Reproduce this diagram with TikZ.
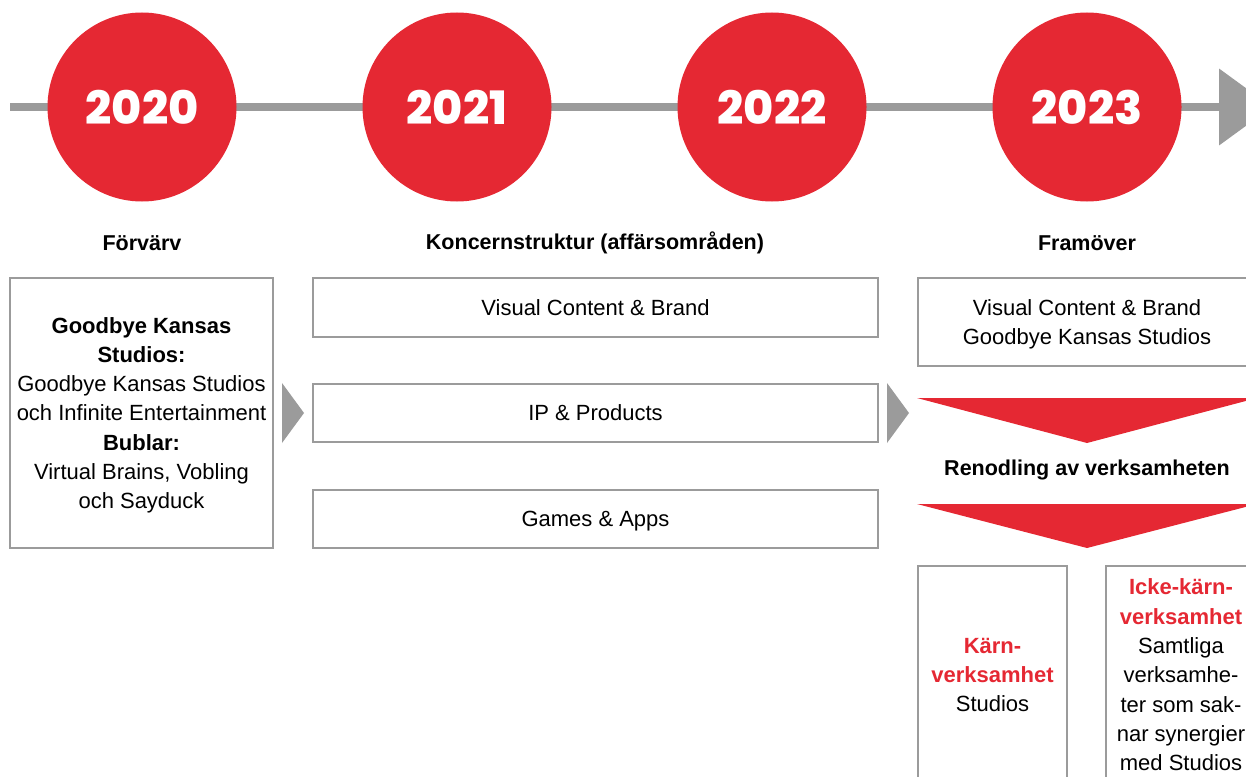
\documentclass[tikz,border=0pt]{standalone}
\usepackage{fontspec}
\setmainfont{Liberation Sans}
\IfFontExistsTF{Poppins ExtraBold}
	{\newfontfamily\yearfont{Poppins ExtraBold}}
	{\newfontfamily\yearfont{Poppins}[UprightFont=* Bold]}
\usetikzlibrary{calc,positioning,arrows.meta}
\definecolor{gkred}{RGB}{229,40,51}
\definecolor{gkgrey}{RGB}{155,155,155}

\begin{document}
\begin{tikzpicture}[x=1pt,y=-1pt,
                year node/.style={circle,fill=gkred,minimum size=189pt,inner sep=0pt,text=white,
                                  font=\yearfont\fontsize{46}{50}\selectfont},
                head node/.style={font=\bfseries\fontsize{21.5}{26}\selectfont},
                box node/.style={draw=gkgrey,line width=2pt,align=center,inner sep=0pt,
                                 font=\fontsize{22}{29.3}\selectfont},
                red text/.style={text=gkred,font=\bfseries}]
	\useasboundingbox (0,0) rectangle (1246,776);
	\clip (0,0) rectangle (1246,776);

	\coordinate (tl start) at (10,107);
	\coordinate (tl end) at (1272,107);
	\draw[gkgrey,line width=8pt,-{Triangle[length=53pt,width=75pt]}] (tl start) -- (tl end);

	\node[year node] (y2020) at (142,107) {2020};
	\node[year node] (y2021) at (457,107) {2021};
	\node[year node] (y2022) at (772,107) {2022};
	\node[year node] (y2023) at (1087,107) {2023};

	\node[head node] (forvarv) at (142,243) {Förvärv};
	\node[head node] (koncern) at (595,243) {Koncernstruktur (affärsområden)};
	\node[head node] (framover) at (1087,243) {Framöver};

	\node[box node,minimum width=263pt,minimum height=270pt,text depth=-2pt] (bolag) at (141.5,413)
		{\textbf{Goodbye Kansas}\\\textbf{Studios:}\\Goodbye Kansas Studios\\och Infinite Entertainment\\
		 \textbf{Bublar:}\\Virtual Brains, Vobling\\och Sayduck};
	\node[box node,minimum width=565pt,minimum height=59pt,text depth=0pt] (visual) at (595.5,307.5) {Visual Content \& Brand};
	\node[box node,minimum width=565pt,minimum height=58pt,text depth=0pt] (ip) at (595.5,413) {IP \& Products};
	\node[box node,minimum width=565pt,minimum height=58pt,text depth=0pt] (games) at (595.5,519) {Games \& Apps};
	\node[box node,minimum width=338pt,minimum height=88pt,text depth=-4pt] (studios) at (1087,322)
		{Visual Content \& Brand\\Goodbye Kansas Studios};

	\fill[gkgrey] ($(bolag.east)+(8,-30)$) -- ++(22,30) -- ++(-22,30) -- cycle;
	\fill[gkgrey] ($(ip.east)+(8,-30)$) -- ++(22,30) -- ++(-22,30) -- cycle;

	\fill[gkred] ($(studios.south west)+(0,31)$) -- ($(studios.south)+(0,76)$) -- ($(studios.south east)+(0,31)$) -- cycle;
	\node[head node] (renodling) at (1087,470) {Renodling av verksamheten};
	\fill[gkred] ($(studios.south west)+(0,137)$) -- ($(studios.south)+(0,181)$) -- ($(studios.south east)+(0,137)$) -- cycle;

	\node[box node,minimum width=149pt,minimum height=218pt] (karn) at (992.5,675)
		{\textcolor{gkred}{\textbf{Kärn-}}\\\textcolor{gkred}{\textbf{verksamhet}}\\Studios};
	\node[box node,minimum width=150pt,minimum height=218pt] (ickekarn) at (1181,675)
		{\textcolor{gkred}{\textbf{Icke-kärn-}}\\\textcolor{gkred}{\textbf{verksamhet}}\\Samtliga\\verksamhe-\\ter som sak-\\nar synergier\\med Studios};

\end{tikzpicture}
\end{document}
